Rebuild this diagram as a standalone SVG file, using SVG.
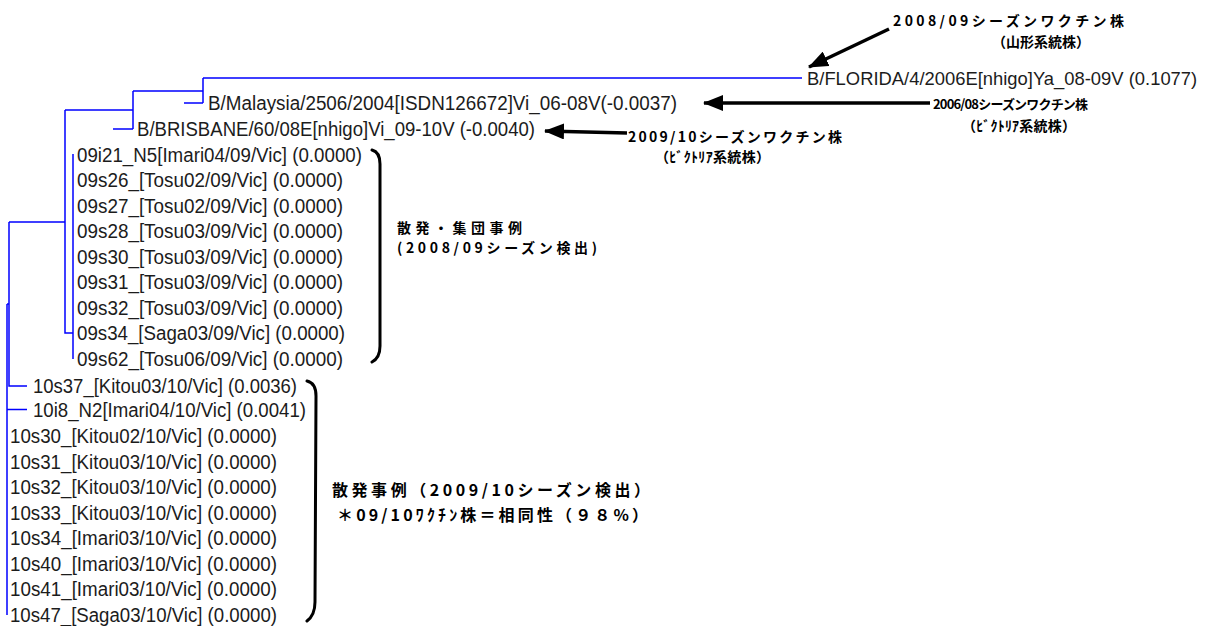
<svg xmlns="http://www.w3.org/2000/svg" width="1211" height="626" viewBox="0 0 1211 626">
<style>
.lbl{font-family:"Liberation Sans",Arial,sans-serif;font-size:20px;fill:#1c1c1c}
.br{stroke:#0000ff;stroke-width:1.5;fill:none}
.jp{font-family:"Noto Sans CJK JP",sans-serif;font-weight:bold;font-size:14px;fill:#000}
.jpb{font-family:"Noto Sans CJK JP",sans-serif;font-weight:bold;font-size:16px;fill:#000}
.brace{stroke:#000;stroke-width:3;fill:none;stroke-linecap:round}
.arr{stroke:#000;stroke-width:3.5;fill:none}
</style>
<defs>
<marker id="ah" markerUnits="userSpaceOnUse" markerWidth="20" markerHeight="16" viewBox="0 0 20 16" refX="19" refY="8" orient="auto">
<path d="M0,0 L20,8 L0,16 Z" fill="#000"/>
</marker>
</defs>
<rect width="1211" height="626" fill="#fff"/>
<g id="connectors">
<path class="br" d="M203,78 H802 M203,78 V103 M184,103 H203 M133,91 H203 M133,91 V129 M113,129 H133 M65,110 H133 M65,110 V333 H73 M73,154 V359 M9,222 H65 M9,222 V386 H27 M7,304 H9 M7,304 V615 M7,409.5 H27"/>
</g>
<g id="leaf-florida"><text class="lbl" x="807" y="85" style="font-size:18.4px">B/FLORIDA/4/2006E[nhigo]Ya_08-09V (0.1077)</text></g>
<g id="leaf-malaysia"><text class="lbl" x="208" y="110" textLength="469" lengthAdjust="spacingAndGlyphs">B/Malaysia/2506/2004[ISDN126672]Vi_06-08V(-0.0037)</text></g>
<g id="leaf-brisbane"><text class="lbl" x="137" y="136" textLength="398" lengthAdjust="spacingAndGlyphs">B/BRISBANE/60/08E[nhigo]Vi_09-10V (-0.0040)</text></g>
<g id="leaf-09i21"><text class="lbl" x="77" y="161.5" textLength="285" lengthAdjust="spacingAndGlyphs">09i21_N5[Imari04/09/Vic] (0.0000)</text></g>
<g id="leaf-09s26"><text class="lbl" x="77" y="187" textLength="266" lengthAdjust="spacingAndGlyphs">09s26_[Tosu02/09/Vic] (0.0000)</text></g>
<g id="leaf-09s27"><text class="lbl" x="77" y="212.5" textLength="266" lengthAdjust="spacingAndGlyphs">09s27_[Tosu02/09/Vic] (0.0000)</text></g>
<g id="leaf-09s28"><text class="lbl" x="77" y="238" textLength="266" lengthAdjust="spacingAndGlyphs">09s28_[Tosu03/09/Vic] (0.0000)</text></g>
<g id="leaf-09s30"><text class="lbl" x="77" y="263.5" textLength="266" lengthAdjust="spacingAndGlyphs">09s30_[Tosu03/09/Vic] (0.0000)</text></g>
<g id="leaf-09s31"><text class="lbl" x="77" y="289" textLength="266" lengthAdjust="spacingAndGlyphs">09s31_[Tosu03/09/Vic] (0.0000)</text></g>
<g id="leaf-09s32"><text class="lbl" x="77" y="314.5" textLength="266" lengthAdjust="spacingAndGlyphs">09s32_[Tosu03/09/Vic] (0.0000)</text></g>
<g id="leaf-09s34"><text class="lbl" x="77" y="340" textLength="268" lengthAdjust="spacingAndGlyphs">09s34_[Saga03/09/Vic] (0.0000)</text></g>
<g id="leaf-09s62"><text class="lbl" x="77" y="365.5" textLength="266" lengthAdjust="spacingAndGlyphs">09s62_[Tosu06/09/Vic] (0.0000)</text></g>
<g id="leaf-10s37"><text class="lbl" x="33" y="392.5" textLength="264" lengthAdjust="spacingAndGlyphs">10s37_[Kitou03/10/Vic] (0.0036)</text></g>
<g id="leaf-10i8"><text class="lbl" x="33" y="417" textLength="273" lengthAdjust="spacingAndGlyphs">10i8_N2[Imari04/10/Vic] (0.0041)</text></g>
<g id="leaf-10s30"><text class="lbl" x="10" y="443" textLength="267" lengthAdjust="spacingAndGlyphs">10s30_[Kitou02/10/Vic] (0.0000)</text></g>
<g id="leaf-10s31"><text class="lbl" x="10" y="468.5" textLength="267" lengthAdjust="spacingAndGlyphs">10s31_[Kitou03/10/Vic] (0.0000)</text></g>
<g id="leaf-10s32"><text class="lbl" x="10" y="494" textLength="267" lengthAdjust="spacingAndGlyphs">10s32_[Kitou03/10/Vic] (0.0000)</text></g>
<g id="leaf-10s33"><text class="lbl" x="10" y="519.5" textLength="267" lengthAdjust="spacingAndGlyphs">10s33_[Kitou03/10/Vic] (0.0000)</text></g>
<g id="leaf-10s34"><text class="lbl" x="10" y="545" textLength="267" lengthAdjust="spacingAndGlyphs">10s34_[Imari03/10/Vic] (0.0000)</text></g>
<g id="leaf-10s40"><text class="lbl" x="10" y="570.5" textLength="267" lengthAdjust="spacingAndGlyphs">10s40_[Imari03/10/Vic] (0.0000)</text></g>
<g id="leaf-10s41"><text class="lbl" x="10" y="596" textLength="267" lengthAdjust="spacingAndGlyphs">10s41_[Imari03/10/Vic] (0.0000)</text></g>
<g id="leaf-10s47"><text class="lbl" x="10" y="621.5" textLength="267" lengthAdjust="spacingAndGlyphs">10s47_[Saga03/10/Vic] (0.0000)</text></g>
<g id="arrows">
<path class="arr" d="M889,29 L809,67" marker-end="url(#ah)"/>
<path class="arr" d="M930,103 L704,103" marker-end="url(#ah)"/>
<path class="arr" d="M627,133 L545,131" marker-end="url(#ah)"/>
</g>
<g id="note-2008-09">
<text class="jp" x="893" y="26" textLength="231" lengthAdjust="spacing">2008/09シーズンワクチン株</text>
<text class="jp" x="992" y="47" textLength="98" lengthAdjust="spacing">（山形系統株）</text>
</g>
<g id="note-2006-08">
<text class="jp" x="933" y="108.5" style="font-size:13px" textLength="155" lengthAdjust="spacing">2006/08シーズンワクチン株</text>
<text class="jp" x="962" y="131" textLength="114" lengthAdjust="spacing">（ﾋﾞｸﾄﾘｱ系統株）</text>
</g>
<g id="note-2009-10">
<text class="jp" x="628" y="142" textLength="214" lengthAdjust="spacing">2009/10シーズンワクチン株</text>
<text class="jp" x="655" y="162" textLength="115" lengthAdjust="spacing">（ﾋﾞｸﾄﾘｱ系統株）</text>
</g>
<g id="bracket-2008-09">
<path class="brace" d="M372,150 Q380,152 380,164 L380,346 Q380,358 372,362"/>
<text class="jp" x="397" y="233" textLength="125" lengthAdjust="spacing">散発・集団事例</text>
<text class="jp" x="397" y="253" textLength="200" lengthAdjust="spacing">(2008/09シーズン検出)</text>
</g>
<g id="bracket-2009-10">
<path class="brace" d="M307,381 Q316,383 316,396 L315,602 Q315,615 307,621"/>
<text class="jpb" x="332" y="496" textLength="318" lengthAdjust="spacing">散発事例（2009/10シーズン検出）</text>
<text class="jpb" x="337" y="521" textLength="311" lengthAdjust="spacing">＊09/10ﾜｸﾁﾝ株＝相同性（９８%）</text>
</g>
</svg>
